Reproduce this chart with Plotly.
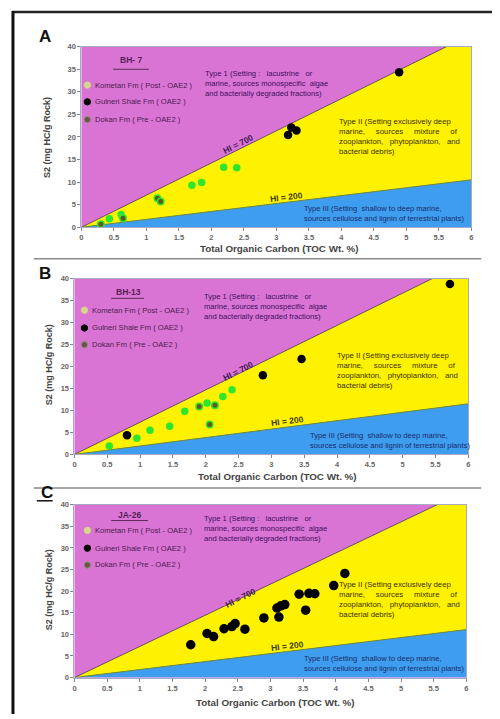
import plotly.graph_objects as go

W, H = 500, 719
OFF = 8  # default page body margin of the browser

# ---------------- data ----------------
panel_letters = ["A", "B", "C"]
well_names = ["BH- 7", "BH-13", "JA-26"]
x_ticks = [0, 0.5, 1, 1.5, 2, 2.5, 3, 3.5, 4, 4.5, 5, 5.5, 6]
x_tick_labels = ["0", "0.5", "1", "1.5", "2", "2.5", "3", "3.5", "4", "4.5", "5", "5.5", "6"]
y_ticks = [0, 5, 10, 15, 20, 25, 30, 35, 40]
y_tick_labels = ["0", "5", "10", "15", "20", "25", "30", "35", "40"]

# TOC where the HI=700 boundary reaches S2 = 40, and S2 of HI=200 boundary at TOC = 6
hi700_top_toc = [5.62, 5.45, 5.55]
hi200_end_s2 = [10.5, 11.5, 11.1]

legend_names = ["Kometan Fm ( Post - OAE2 )", "Gulneri Shale Fm ( OAE2 )", "Dokan Fm ( Pre - OAE2 )"]

A_kometan_toc = [0.43, 0.61, 1.70, 1.85, 2.19, 2.39]
A_kometan_s2 = [1.9, 2.8, 9.3, 9.9, 13.3, 13.2]
A_gulneri_toc = [3.18, 3.23, 3.31, 4.89]
A_gulneri_s2 = [20.4, 22.1, 21.4, 34.3]
A_dokan_toc = [0.30, 0.64, 1.17, 1.22]
A_dokan_s2 = [0.65, 2.0, 6.4, 5.7]

B_kometan_toc = [0.53, 0.95, 1.15, 1.45, 1.68, 2.02, 2.26, 2.40]
B_kometan_s2 = [1.9, 3.7, 5.5, 6.4, 9.8, 11.7, 13.2, 14.7]
B_gulneri_toc = [0.80, 2.87, 3.46, 5.72]
B_gulneri_s2 = [4.35, 18.0, 21.7, 38.8]
B_dokan_toc = [1.90, 2.14, 2.06]
B_dokan_s2 = [10.9, 11.2, 6.8]

C_kometan_toc = []
C_kometan_s2 = []
C_gulneri_toc = [1.78, 2.03, 2.13, 2.29, 2.41, 2.46, 2.61, 2.90, 3.10, 3.13, 3.16, 3.22,
                 3.44, 3.54, 3.59, 3.68, 3.97, 4.14]
C_gulneri_s2 = [7.6, 10.2, 9.5, 11.3, 11.8, 12.5, 11.2, 13.8, 16.1, 14.0, 16.6, 16.9,
                19.3, 15.6, 19.5, 19.4, 21.3, 24.1]
C_dokan_toc = []
C_dokan_s2 = []

kometan = [(A_kometan_toc, A_kometan_s2), (B_kometan_toc, B_kometan_s2), (C_kometan_toc, C_kometan_s2)]
gulneri = [(A_gulneri_toc, A_gulneri_s2), (B_gulneri_toc, B_gulneri_s2), (C_gulneri_toc, C_gulneri_s2)]
dokan = [(A_dokan_toc, A_dokan_s2), (B_dokan_toc, B_dokan_s2), (C_dokan_toc, C_dokan_s2)]

NB = "\u00a0"
type1_text = ("Type 1 (Setting :" + NB * 3 + "lacustrine" + NB * 2 + " or<br>"
              "marine, sources monospecific" + NB + " algae<br>"
              "and bacterially degraded fractions)")
type2_text = ("Type II (Setting exclusively deep<br>"
              "marine," + NB * 4 + " sources" + NB * 4 + " mixture" + NB * 4 + " of<br>"
              "zooplankton," + NB * 2 + " phytoplankton," + NB * 2 + " and<br>"
              "bacterial debris)")
type3_text = "Type III (Setting" + NB + " shallow to deep marine,<br>sources cellulose and lignin of terrestrial plants)"
x_title = "Total Organic Carbon (TOC Wt. %)"
y_title = "S2 (mg HC/g Rock)"

# ---------------- layout geometry (pixels in the screenshot) ----------------
plot_boxes = [(80, 473, 43, 226), (73, 470, 278, 456), (73, 468, 507, 682)]  # left,right,top,bottom
type1_pos = [(203, 64), (202, 290), (202, 514)]
type2_pos = [(338, 112), (336, 349), (338, 581)]
type3_pos = [(302, 200), (308, 430), (302, 656)]
hi700_pos = [(238, 142), (238, 372), (240, 601)]
hi200_pos = [(287, 195), (288, 422), (288, 650)]
leg_head = [(130, 57), (127, 292), (128, 517)]
leg_line = [(112, 148, 66), (110, 143, 298), (110, 147, 523)]
leg_x = [86, 83, 86]
leg_y = [[82, 99, 117], [310, 328, 345], [533, 551, 568]]
letter_pos = [(43, 33), (43, 273), (45, 495)]
xtitle_pos = [(280, 247), (278, 478), (276, 707)]
ytitle_pos = [(46, 135), (47, 365), (47, 593)]
gulneri_size = [8.5, 8.5, 9.5]

PINK = "#DA74D4"
YELLOW = "#FFF200"
BLUE = "#3E9DEE"
GREEN = "#2EE62E"
FONT = "Liberation Sans, Arial, sans-serif"


def px(x):
    return (x - OFF) / W


def py(y):
    return 1 - (y - OFF) / H


fig = go.Figure()
annotations = []
shapes = []


def ann(text, x, y, size=6.5, color="#222", xanchor="left", yanchor="top",
        align="left", bold=False, angle=0):
    annotations.append(dict(text=text, x=px(x), y=py(y), xref="paper", yref="paper",
                            xanchor=xanchor, yanchor=yanchor, align=align, showarrow=False,
                            textangle=angle,
                            font=dict(family=FONT, size=size, color=color,
                                      weight="bold" if bold else "normal")))


for i in range(3):
    sfx = "" if i == 0 else str(i + 1)
    xa, ya = "x" + sfx, "y" + sfx
    l, r, t, b = plot_boxes[i]
    top_x = hi700_top_toc[i]
    e3 = hi200_end_s2[i]

    # Type II (yellow) region
    fig.add_trace(go.Scatter(x=[0, top_x, 6, 6, 0], y=[0, 40, 40, e3, 0], fill="toself",
                             fillcolor=YELLOW, mode="lines", line=dict(width=0),
                             xaxis=xa, yaxis=ya, showlegend=False, hoverinfo="skip"))
    # Type III (blue) region
    fig.add_trace(go.Scatter(x=[0, 6, 6, 0], y=[0, e3, 0, 0], fill="toself",
                             fillcolor=BLUE, mode="lines", line=dict(width=0),
                             xaxis=xa, yaxis=ya, showlegend=False, hoverinfo="skip"))
    # boundaries
    fig.add_trace(go.Scatter(x=[0, top_x], y=[0, 40], mode="lines",
                             line=dict(color="#6A4A6A", width=1),
                             xaxis=xa, yaxis=ya, showlegend=False, hoverinfo="skip"))
    fig.add_trace(go.Scatter(x=[0, 6], y=[0, e3], mode="lines",
                             line=dict(color="#6E8A3A", width=1),
                             xaxis=xa, yaxis=ya, showlegend=False, hoverinfo="skip"))

    # data points
    kx, ky = kometan[i]
    fig.add_trace(go.Scatter(x=kx, y=ky, mode="markers", name=legend_names[0],
                             marker=dict(color=GREEN, size=7.5, line=dict(width=0)),
                             xaxis=xa, yaxis=ya, showlegend=False))
    dx, dy = dokan[i]
    fig.add_trace(go.Scatter(x=dx, y=dy, mode="markers", name=legend_names[2],
                             marker=dict(color="#5E5A22", size=6.5, line=dict(color=GREEN, width=1.5)),
                             xaxis=xa, yaxis=ya, showlegend=False))
    gx, gy = gulneri[i]
    fig.add_trace(go.Scatter(x=gx, y=gy, mode="markers", name=legend_names[1],
                             marker=dict(color="black", size=gulneri_size[i], line=dict(width=0)),
                             xaxis=xa, yaxis=ya, showlegend=False))

    axis_common = dict(showgrid=False, zeroline=False, showline=True, mirror=True,
                       linecolor="#A9A9C6", linewidth=1, ticks="outside", ticklen=3,
                       tickcolor="#888", tickfont=dict(family=FONT, size=7.5, color="#666", weight="bold"))
    fig.update_layout(**{
        "xaxis" + sfx: dict(domain=[px(l), px(r)], range=[0, 6], anchor=ya,
                            tickvals=x_ticks, ticktext=x_tick_labels, **axis_common),
        "yaxis" + sfx: dict(domain=[py(b), py(t)], range=[0, 40], anchor=xa,
                            tickvals=y_ticks, ticktext=y_tick_labels, **axis_common),
    })

    ann(type1_text, *type1_pos[i], size=7.6, color="#3A1060")
    ann(type2_text, *type2_pos[i], size=7.8, color="#3A3000")
    ann(type3_text, *type3_pos[i], size=7.6, color="#1C2C6C")
    ann("HI = 700", *hi700_pos[i], size=8.5, color="#3A1A55", xanchor="center",
        yanchor="middle", bold=True, angle=-27)
    ann("HI = 200", *hi200_pos[i], size=8.5, color="#3E3E10", xanchor="center",
        yanchor="middle", bold=True, angle=-7)
    # legend
    ann(well_names[i], *leg_head[i], size=8.5, color="#552255", xanchor="center",
        yanchor="middle", bold=True)
    shapes.append(dict(type="line", xref="paper", yref="paper",
                       x0=px(leg_line[i][0]), x1=px(leg_line[i][1]),
                       y0=py(leg_line[i][2]), y1=py(leg_line[i][2]),
                       line=dict(color="#5A2A5A", width=1)))
    leg_colors = [("#D6D68C", "#D6D68C"), ("black", "black"), ("#7A4A5A", "#7AA060")]
    for k in range(3):
        cx, cy = leg_x[i], leg_y[i][k]
        rad = 3.2
        fill, edge = leg_colors[k]
        shapes.append(dict(type="circle", xref="paper", yref="paper",
                           x0=px(cx - rad), x1=px(cx + rad), y0=py(cy + rad), y1=py(cy - rad),
                           fillcolor=fill, line=dict(color=edge, width=1)))
        ann(legend_names[k], cx + 6, cy, size=7.6, color="#4A2050", yanchor="middle")

    ann(panel_letters[i], *letter_pos[i], size=17, color="#111", xanchor="center",
        yanchor="middle", bold=True)
    ann(x_title, *xtitle_pos[i], size=9.8, color="#444", xanchor="center", yanchor="middle", bold=True)
    ann(y_title, *ytitle_pos[i], size=9, color="#444", xanchor="center", yanchor="middle",
        bold=True, angle=-90)

# underline under C
shapes.append(dict(type="line", xref="paper", yref="paper", x0=px(35), x1=px(51),
                   y0=py(503), y1=py(503), line=dict(color="#111", width=1.5)))
# separators
for sy in [258, 490]:
    shapes.append(dict(type="line", xref="paper", yref="paper", x0=px(32), x1=px(483),
                       y0=py(sy), y1=py(sy), line=dict(color="#8A8A8A", width=1.5)))
# outer frame (top and left)
shapes.append(dict(type="line", xref="paper", yref="paper", x0=px(10), x1=px(497),
                   y0=py(8), y1=py(8), line=dict(color="#222", width=2.5)))
shapes.append(dict(type="line", xref="paper", yref="paper", x0=px(11), x1=px(11),
                   y0=py(7), y1=py(719), line=dict(color="#111", width=3)))
shapes.append(dict(type="line", xref="paper", yref="paper", x0=px(497), x1=px(497),
                   y0=py(8), y1=py(719), line=dict(color="#DDDDDD", width=1)))

fig.update_layout(width=W, height=H, margin=dict(l=0, r=0, t=0, b=0),
                  paper_bgcolor="white", plot_bgcolor=PINK, showlegend=False,
                  annotations=annotations, shapes=shapes)

fig.write_html("out.html")
